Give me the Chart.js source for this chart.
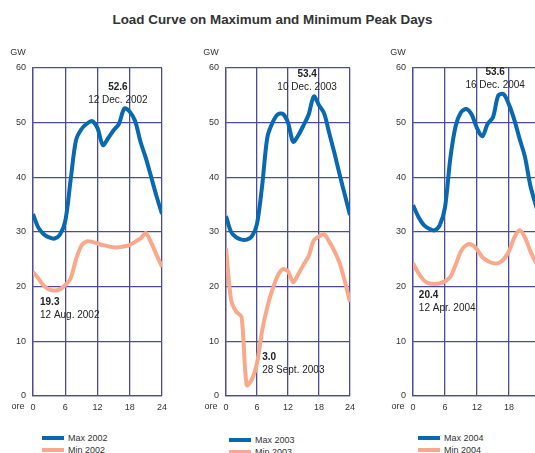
<!DOCTYPE html>
<html>
<head>
<meta charset="utf-8">
<script src="https://cdn.jsdelivr.net/npm/chart.js@4.4.1/dist/chart.umd.min.js"></script>
<style>
  html, body { margin: 0; padding: 0; background: #fff; overflow: hidden; }
  #page { position: relative; width: 535px; height: 453px; overflow: hidden; font-family: "Liberation Sans", Arial, sans-serif; }
  #title { position: absolute; left: 0; width: 545px; top: 12px; text-align: center; font-size: 13.4px; font-weight: bold; color: #333; }
  .box { position: absolute; top: 44px; height: 376px; }
  .legend { position: absolute; font-size: 9px; color: #333; }
  .legend div { height: 12px; line-height: 12px; white-space: nowrap; }
  .legend span { display: inline-block; width: 22px; height: 4px; vertical-align: middle; margin-right: 4px; margin-top: -2px; }
</style>
</head>
<body>
<div id="page">
  <div id="title">Load Curve on Maximum and Minimum Peak Days</div>
  <div class="box" style="left:0px;width:173px"><canvas id="c2002"></canvas></div>
  <div class="box" style="left:193px;width:168px"><canvas id="c2003"></canvas></div>
  <div class="box" style="left:380px;width:172px"><canvas id="c2004"></canvas></div>
  <div class="legend" style="left:42px;top:432px"><div><span style="background:#0868b0"></span>Max 2002</div><div><span style="background:#f9a98a"></span>Min 2002</div></div>
  <div class="legend" style="left:229px;top:434px"><div><span style="background:#0868b0"></span>Max 2003</div><div><span style="background:#f9a98a"></span>Min 2003</div></div>
  <div class="legend" style="left:418px;top:432px"><div><span style="background:#0868b0"></span>Max 2004</div><div><span style="background:#f9a98a"></span>Min 2004</div></div>
</div>
<script>
/////////////////////////////
// Data
/////////////////////////////

const hours = [0,1,2,3,4,5,6,7,8,9,10,11,12,13,14,15,16,17,18,19,20,21,22,23,24];
const xTicks = [0, 6, 12, 18, 24];
const yTicks = [0, 10, 20, 30, 40, 50, 60];

const max2002 = [33.3,30.8,29.6,29.0,28.8,29.5,32.0,39.5,46.8,48.8,49.8,50.3,49.0,45.9,47.2,48.6,49.8,52.6,52.0,50.3,46.5,43.5,40.0,36.5,33.3];
const min2002 = [22.7,21.5,20.2,19.5,19.3,19.5,20.3,21.5,25.0,27.5,28.3,28.2,27.9,27.6,27.4,27.2,27.2,27.4,27.6,28.2,28.8,29.8,28.0,25.8,23.6];

const max2003 = [32.9,30.0,29.0,28.6,28.6,29.2,31.5,38.5,47.3,50.0,51.5,51.6,50.0,46.5,47.7,49.5,51.5,54.8,53.2,51.7,48.0,44.4,40.5,36.8,33.1];
const min2003 = [27.0,17.5,15.4,14.5,2.0,3.0,6.0,12.0,16.3,19.5,22.0,23.2,22.8,20.8,22.3,24.0,25.6,28.5,29.2,29.6,28.2,26.5,24.3,21.0,17.2];

const max2004 = [34.9,32.8,31.3,30.6,30.3,31.2,34.5,43.5,49.4,51.9,52.5,51.5,49.0,47.5,49.8,51.0,55.0,55.2,53.3,50.5,47.0,43.7,38.5,35.0,32.0];
const min2004 = [24.3,22.5,21.2,20.6,20.5,20.6,21.0,21.8,24.0,26.5,27.6,27.7,26.8,25.4,24.7,24.3,24.3,25.0,26.5,29.0,30.3,29.0,26.5,24.5,23.0];

// peak notes: [hour, GW, value, date, align]
const notes2002 = [[15.8, 56.5, '52.6', '12 Dec. 2002', 'center'], [1.3, 17.2, '19.3', '12 Aug. 2002', 'left']];
const notes2003 = [[15.7, 58.9, '53.4', '10 Dec. 2003', 'center'], [7.0, 7.1, '3.0', '28 Sept. 2003', 'left']];
const notes2004 = [[15.4, 59.2, '53.6', '16 Dec. 2004', 'center'], [1.1, 18.5, '20.4', '12 Apr. 2004', 'left']];

/////////////////////////////
// Plugin | labels
/////////////////////////////

const notesPlugin = {
  id: 'notes',
  afterDraw(chart, args, opts) {
    const { ctx, chartArea, scales } = chart;
    ctx.save();
    ctx.fillStyle = '#333';
    ctx.font = '9px "Liberation Sans", Arial, sans-serif';
    ctx.textAlign = 'center';
    ctx.textBaseline = 'middle';
    ctx.fillText('GW', chartArea.left - 15, chartArea.top - 15);
    ctx.fillText('ore', chartArea.left - 15, chartArea.bottom + 11);

    (opts.items || []).forEach(n => {
      const x = scales.x.getPixelForValue(n[0]);
      const y = scales.y.getPixelForValue(n[1]);
      ctx.textAlign = n[4];
      ctx.fillStyle = '#222';
      ctx.font = 'bold 10px "Liberation Sans", Arial, sans-serif';
      ctx.fillText(n[2], x, y);
      ctx.font = '10px "Liberation Sans", Arial, sans-serif';
      ctx.fillText(n[3], x, y + 13);
    });
    ctx.restore();
  }
};

/////////////////////////////
// Charts
/////////////////////////////

const gridColor = '#4b4b9e';

function makeChart(id, maxData, minData, notes) {
  const ctx = document.getElementById(id).getContext('2d');
  return new Chart(ctx, {
    type: 'line',
    data: {
      datasets: [{
        label: 'Max',
        data: hours.map((h, i) => ({ x: h, y: maxData[i] })),
        borderColor: '#0868b0',
        borderWidth: 4,
        pointRadius: 0,
        tension: 0.3
      }, {
        label: 'Min',
        data: hours.map((h, i) => ({ x: h, y: minData[i] })),
        borderColor: '#f9a98a',
        borderWidth: 4,
        pointRadius: 0,
        tension: 0.3
      }]
    },
    options: {
      responsive: true,
      maintainAspectRatio: false,
      animation: false,
      layout: { padding: { top: 24, right: 8, bottom: 0, left: 0 } },
      plugins: {
        legend: { display: false },
        tooltip: { enabled: false },
        notes: { items: notes }
      },
      scales: {
        x: {
          type: 'linear',
          min: 0,
          max: 24,
          afterBuildTicks: s => { s.ticks = xTicks.map(v => ({ value: v })); },
          afterFit: s => { s.height = 24; },
          grid: { color: gridColor, lineWidth: 1.3, drawTicks: false },
          border: { color: gridColor, width: 1.3 },
          ticks: { color: '#333', font: { size: 9, family: '"Liberation Sans", Arial' }, padding: 6, maxRotation: 0 }
        },
        y: {
          min: 0,
          max: 60,
          afterBuildTicks: s => { s.ticks = yTicks.map(v => ({ value: v })); },
          afterFit: s => { s.width = 33; },
          grid: { color: gridColor, lineWidth: 1.3, drawTicks: false },
          border: { color: gridColor, width: 1.3 },
          ticks: { color: '#333', font: { size: 9, family: '"Liberation Sans", Arial' }, padding: 7 }
        }
      }
    },
    plugins: [notesPlugin]
  });
}

makeChart('c2002', max2002, min2002, notes2002);
makeChart('c2003', max2003, min2003, notes2003);
makeChart('c2004', max2004, min2004, notes2004);
</script>
</body>
</html>
